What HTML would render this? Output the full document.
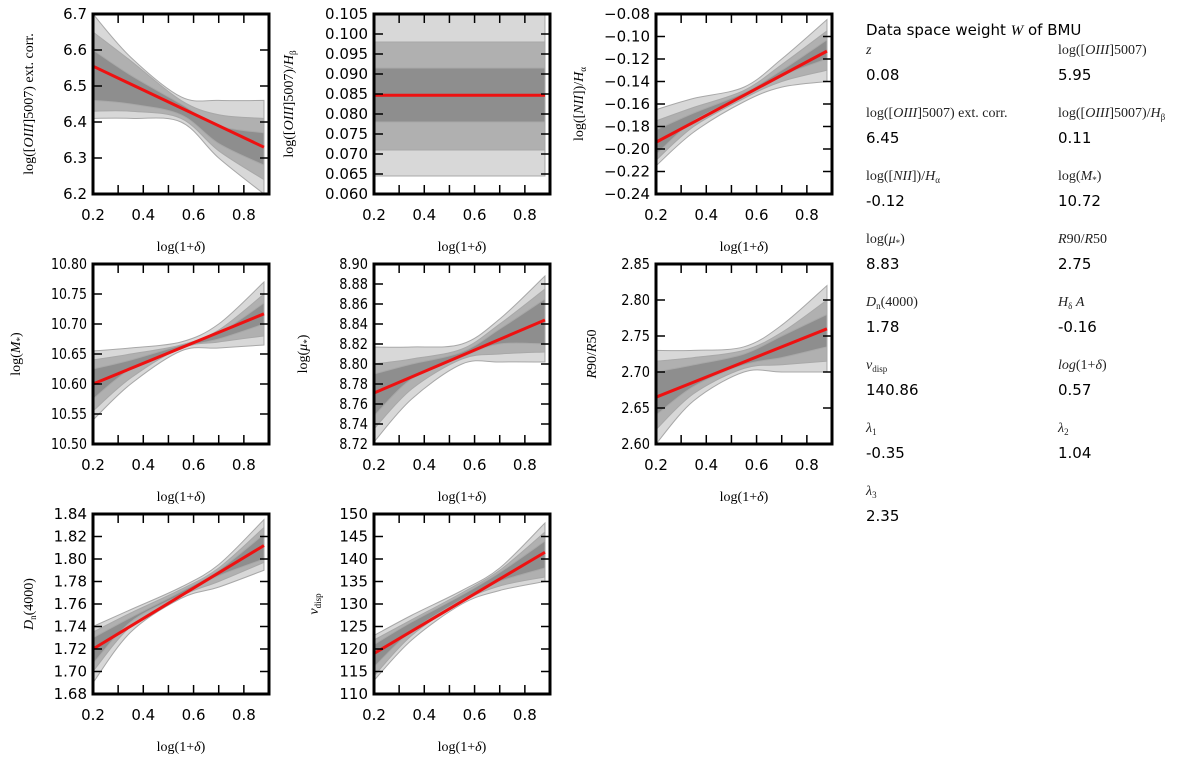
<!DOCTYPE html>
<html><head><meta charset="utf-8">
<style>
body{margin:0;background:#fff;width:1200px;height:761px;overflow:hidden;font-family:"DejaVu Sans","Liberation Sans",sans-serif}
svg{position:absolute;left:0;top:0}
</style></head>
<body>
<svg id="fig" width="1200" height="761"></svg>
<script>
// shared x data
const bandX = [0.2, 0.35, 0.55, 0.7, 0.88];
const xTicks = [0.2,0.3,0.4,0.5,0.6,0.7,0.8,0.9];
const xTickLabels = ["0.2","0.4","0.6","0.8"];
// panel values
const p1Line = [6.555, 6.33];
const p1LightHi = [6.70,6.58,6.47,6.46,6.46], p1LightLo = [6.41,6.41,6.40,6.30,6.20];
const p1MidHi = [6.65,6.57,6.46,6.42,6.41], p1MidLo = [6.43,6.43,6.41,6.32,6.24];
const p1DarkHi = [6.60,6.53,6.45,6.39,6.37], p1DarkLo = [6.46,6.45,6.42,6.34,6.28];
const p1Ticks = [6.2,6.3,6.4,6.5,6.6,6.7];
const p2Line = [0.0847, 0.0847];
const p2LightHi = [0.105,0.105,0.105,0.105,0.105], p2LightLo = [0.0645,0.0645,0.0645,0.0645,0.0645];
const p2MidHi = [0.098,0.098,0.098,0.098,0.098], p2MidLo = [0.071,0.071,0.071,0.071,0.071];
const p2DarkHi = [0.0915,0.0915,0.0915,0.0915,0.0915], p2DarkLo = [0.078,0.078,0.078,0.078,0.078];
const p2Ticks = [0.060,0.065,0.070,0.075,0.080,0.085,0.090,0.095,0.100,0.105];
const p3Line = [-0.194, -0.113];
const p3LightHi = [-0.165,-0.155,-0.145,-0.12,-0.085], p3LightLo = [-0.215,-0.185,-0.158,-0.145,-0.14];
const p3MidHi = [-0.175,-0.163,-0.148,-0.125,-0.095], p3MidLo = [-0.21,-0.18,-0.155,-0.14,-0.13];
const p3DarkHi = [-0.183,-0.168,-0.15,-0.13,-0.103], p3DarkLo = [-0.205,-0.175,-0.153,-0.135,-0.12];
const p3Ticks = [-0.24,-0.22,-0.20,-0.18,-0.16,-0.14,-0.12,-0.10,-0.08];
const p4Line = [10.60, 10.717];
const p4LightHi = [10.655,10.66,10.67,10.70,10.77], p4LightLo = [10.54,10.60,10.655,10.66,10.665];
const p4MidHi = [10.64,10.65,10.665,10.69,10.75], p4MidLo = [10.555,10.61,10.66,10.67,10.68];
const p4DarkHi = [10.625,10.64,10.665,10.685,10.735], p4DarkLo = [10.575,10.625,10.66,10.675,10.70];
const p4Ticks = [10.50,10.55,10.60,10.65,10.70,10.75,10.80];
const p5Line = [8.771, 8.844];
const p5LightHi = [8.817,8.817,8.82,8.845,8.888], p5LightLo = [8.722,8.765,8.80,8.802,8.802];
const p5MidHi = [8.80,8.805,8.815,8.84,8.875], p5MidLo = [8.735,8.775,8.805,8.81,8.812];
const p5DarkHi = [8.79,8.80,8.812,8.835,8.865], p5DarkLo = [8.748,8.785,8.807,8.82,8.82];
const p5Ticks = [8.72,8.74,8.76,8.78,8.80,8.82,8.84,8.86,8.88,8.90];
const p6Line = [2.665, 2.76];
const p6LightHi = [2.73,2.73,2.735,2.765,2.82], p6LightLo = [2.60,2.66,2.70,2.70,2.70];
const p6MidHi = [2.715,2.72,2.73,2.755,2.80], p6MidLo = [2.62,2.67,2.705,2.71,2.715];
const p6DarkHi = [2.70,2.71,2.725,2.75,2.78], p6DarkLo = [2.64,2.68,2.71,2.72,2.735];
const p6Ticks = [2.60,2.65,2.70,2.75,2.80,2.85];
const p7Line = [1.72, 1.812];
const p7LightHi = [1.74,1.755,1.775,1.795,1.835], p7LightLo = [1.69,1.735,1.765,1.775,1.79];
const p7MidHi = [1.735,1.752,1.773,1.792,1.828], p7MidLo = [1.70,1.74,1.767,1.78,1.797];
const p7DarkHi = [1.73,1.748,1.771,1.79,1.822], p7DarkLo = [1.707,1.744,1.768,1.785,1.80];
const p7Ticks = [1.68,1.70,1.72,1.74,1.76,1.78,1.80,1.82,1.84];
const p8Line = [119, 141.5];
const p8LightHi = [123,127.5,133,138,148], p8LightLo = [113,122,130,133,135];
const p8MidHi = [122,126.5,132.5,137.5,146], p8MidLo = [114,123,130.5,134,136];
const p8DarkHi = [121,126,132,137,144], p8DarkLo = [116,124,131,135,138];
const p8Ticks = [110,115,120,125,130,135,140,145,150];

const NS = "http://www.w3.org/2000/svg";
const fig = document.getElementById('fig');
function mk(tag, attrs, parent){const e=document.createElementNS(NS,tag);for(const k in attrs)e.setAttribute(k,attrs[k]);(parent||fig).appendChild(e);return e;}
// smooth Catmull-Rom path through points (rendering only)
function smooth(pts, start){
  let d=(start?'M':' L')+pts[0][0]+','+pts[0][1];
  for(let i=0;i<pts.length-1;i++){
    const p0=pts[Math.max(i-1,0)],p1=pts[i],p2=pts[i+1],p3=pts[Math.min(i+2,pts.length-1)];
    const c1=[p1[0]+(p2[0]-p0[0])/6,p1[1]+(p2[1]-p0[1])/6];
    const c2=[p2[0]-(p3[0]-p1[0])/6,p2[1]-(p3[1]-p1[1])/6];
    d+=' C'+c1[0]+','+c1[1]+' '+c2[0]+','+c2[1]+' '+p2[0]+','+p2[1];
  }
  return d;
}

const panels = [
 {id:'oiii-ext',col:0,row:0,line:p1Line,bands:[[p1LightHi,p1LightLo],[p1MidHi,p1MidLo],[p1DarkHi,p1DarkLo]],ticks:p1Ticks,dec:1,ylab:'log([<tspan font-style="italic">OIII</tspan>]5007) ext. corr.',ylx:33},
 {id:'oiii-hbeta',col:1,row:0,line:p2Line,bands:[[p2LightHi,p2LightLo],[p2MidHi,p2MidLo],[p2DarkHi,p2DarkLo]],ticks:p2Ticks,dec:3,ylab:'log([<tspan font-style="italic">OIII</tspan>]5007)/<tspan font-style="italic">H</tspan><tspan font-size="9" dy="3">β</tspan>',ylx:293},
 {id:'nii-halpha',col:2,row:0,line:p3Line,bands:[[p3LightHi,p3LightLo],[p3MidHi,p3MidLo],[p3DarkHi,p3DarkLo]],ticks:p3Ticks,dec:2,ylab:'log([<tspan font-style="italic">NII</tspan>])/<tspan font-style="italic">H</tspan><tspan font-size="9" dy="3">α</tspan>',ylx:583},
 {id:'stellar-mass',col:0,row:1,line:p4Line,bands:[[p4LightHi,p4LightLo],[p4MidHi,p4MidLo],[p4DarkHi,p4DarkLo]],ticks:p4Ticks,dec:2,ylab:'log(<tspan font-style="italic">M</tspan><tspan font-size="9" dy="3">*</tspan><tspan dy="-3">)</tspan>',ylx:20,narrow:true},
 {id:'mu-star',col:1,row:1,line:p5Line,bands:[[p5LightHi,p5LightLo],[p5MidHi,p5MidLo],[p5DarkHi,p5DarkLo]],ticks:p5Ticks,dec:2,ylab:'log(<tspan font-style="italic">μ</tspan><tspan font-size="9" dy="3">*</tspan><tspan dy="-3">)</tspan>',ylx:307,narrow:true},
 {id:'r90-r50',col:2,row:1,line:p6Line,bands:[[p6LightHi,p6LightLo],[p6MidHi,p6MidLo],[p6DarkHi,p6DarkLo]],ticks:p6Ticks,dec:2,ylab:'<tspan font-style="italic">R</tspan>90/<tspan font-style="italic">R</tspan>50',ylx:596,narrow:true},
 {id:'dn4000',col:0,row:2,line:p7Line,bands:[[p7LightHi,p7LightLo],[p7MidHi,p7MidLo],[p7DarkHi,p7DarkLo]],ticks:p7Ticks,dec:2,ylab:'<tspan font-style="italic">D</tspan><tspan font-size="9" dy="3">n</tspan><tspan dy="-3">(4000)</tspan>',ylx:33},
 {id:'vdisp',col:1,row:2,line:p8Line,bands:[[p8LightHi,p8LightLo],[p8MidHi,p8MidLo],[p8DarkHi,p8DarkLo]],ticks:p8Ticks,dec:0,ylab:'<tspan font-style="italic">v</tspan><tspan font-size="9" dy="3">disp</tspan>',ylx:318},
];
const colL=[93,374,656], rowT=[14,264,514], W=176, H=180;
const bandFill=['#d8d8d8','#b0b0b0','#8e8e8e'];

panels.forEach(p=>{
  const L=colL[p.col], T=rowT[p.row];
  const t=p.ticks, ymin=t[0], ymax=t[t.length-1];
  const sx=v=>L+(v-0.2)/(0.9-0.2)*W;
  const sy=v=>T+H-(v-ymin)/(ymax-ymin)*H;
  const g=mk('g',{});
  
  
  p.bands.forEach((b,i)=>{
    const hi=b[0], lo=b[1];
    const top=bandX.map((x,j)=>[sx(x),sy(hi[j])]);
    const bot=bandX.map((x,j)=>[sx(x),sy(lo[j])]).reverse();
    const d=smooth(top,true)+smooth(bot,false)+' Z';
    const path=mk('path',{d:d,fill:bandFill[i],stroke:'#a8a8a8','stroke-width':1},g);
    
    
  });
  const ln=mk('line',{x1:sx(bandX[0]),y1:sy(p.line[0]),x2:sx(bandX[bandX.length-1]),y2:sy(p.line[1]),stroke:'#ee1111','stroke-width':3},g);
  
  
  xTicks.forEach(v=>{
    mk('line',{x1:sx(v),x2:sx(v),y1:T+H,y2:T+H-9,stroke:'#000','stroke-width':1.5},g);
    mk('line',{x1:sx(v),x2:sx(v),y1:T,y2:T+9,stroke:'#000','stroke-width':1.5},g);
  });
  xTickLabels.forEach(s=>{
    const tx=mk('text',{x:sx(parseFloat(s)),y:T+H+26,'text-anchor':'middle','font-size':15,fill:'#000'},g);
    tx.textContent=s;
    
    
  });
  t.forEach(v=>{
    mk('line',{x1:L,x2:L+9,y1:sy(v),y2:sy(v),stroke:'#000','stroke-width':1.5},g);
    mk('line',{x1:L+W-9,x2:L+W,y1:sy(v),y2:sy(v),stroke:'#000','stroke-width':1.5},g);
    const s=(v<0?'\u2212':'')+Math.abs(v).toFixed(p.dec);
    const tx=mk('text',{x:L-6,y:sy(v)+5,'text-anchor':'end','font-size':15,fill:'#000'},g);
    if(p.narrow){tx.setAttribute('textLength', s.length*7.2);tx.setAttribute('lengthAdjust','spacingAndGlyphs');}
    tx.textContent=s;
    
    
  });
  const fr=mk('rect',{x:L,y:T,width:W,height:H,fill:'none',stroke:'#000','stroke-width':3},g);
  
  
  const xl=mk('text',{x:L+W/2,y:T+H+57,'text-anchor':'middle','font-size':14,'font-family':'Liberation Serif, serif'},g);
  xl.innerHTML='log(1+<tspan font-style="italic">δ</tspan>)';
  
  
  const cy=T+H/2;
  const yl=mk('text',{x:p.ylx,y:cy,'text-anchor':'middle','font-size':14,'font-family':'Liberation Serif, serif',transform:'rotate(-90 '+p.ylx+' '+cy+')'},g);
  yl.innerHTML=p.ylab;
  
  
});

const infoLabels = ['<tspan font-style="italic">z</tspan>','log([<tspan font-style="italic">OIII</tspan>]5007)',
 'log([<tspan font-style="italic">OIII</tspan>]5007) ext. corr.','log([<tspan font-style="italic">OIII</tspan>]5007)/<tspan font-style="italic">H</tspan><tspan font-size="9" dy="3">β</tspan>',
 'log([<tspan font-style="italic">NII</tspan>])/<tspan font-style="italic">H</tspan><tspan font-size="9" dy="3">α</tspan>','log(<tspan font-style="italic">M</tspan><tspan font-size="9" dy="3">*</tspan><tspan dy="-3">)</tspan>',
 'log(<tspan font-style="italic">μ</tspan><tspan font-size="9" dy="3">*</tspan><tspan dy="-3">)</tspan>','<tspan font-style="italic">R</tspan>90/<tspan font-style="italic">R</tspan>50',
 '<tspan font-style="italic">D</tspan><tspan font-size="9" dy="3">n</tspan><tspan dy="-3">(4000)</tspan>','<tspan font-style="italic">H</tspan><tspan font-size="9" dy="3">δ</tspan><tspan dy="-3" font-style="italic"> A</tspan>',
 '<tspan font-style="italic">v</tspan><tspan font-size="9" dy="3">disp</tspan>','<tspan font-style="italic">log</tspan>(1+<tspan font-style="italic">δ</tspan>)',
 '<tspan font-style="italic">λ</tspan><tspan font-size="9" dy="3">1</tspan>','<tspan font-style="italic">λ</tspan><tspan font-size="9" dy="3">2</tspan>',
 '<tspan font-style="italic">λ</tspan><tspan font-size="9" dy="3">3</tspan>'];
const infoValues = ['0.08','5.95','6.45','0.11','-0.12','10.72','8.83','2.75','1.78','-0.16','140.86','0.57','-0.35','1.04','2.35'];
const title=mk('text',{x:866,y:35,'font-size':15});
title.innerHTML='Data space weight <tspan font-family="Liberation Serif, serif" font-style="italic">W</tspan> of BMU';


infoLabels.forEach((lab,i)=>{
  const x=i%2?1058:866, r=Math.floor(i/2), y=49+r*63;
  const l=mk('text',{x:x,y:y+5,'font-size':14,'font-family':'Liberation Serif, serif',fill:'#222'});
  l.innerHTML=lab;
  
  
  const v=mk('text',{x:x,y:y+31,'font-size':15,fill:'#000'});
  v.textContent=infoValues[i];
  
  
});
</script>
</body></html>
